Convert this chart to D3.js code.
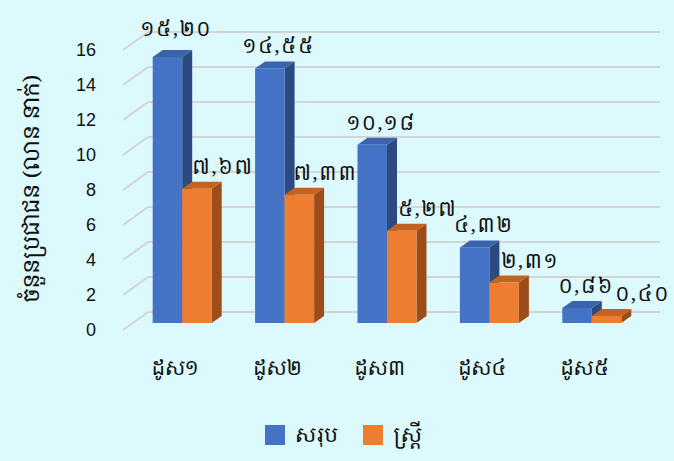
<!DOCTYPE html>
<html>
<head>
<meta charset="utf-8">
<script src="https://cdn.jsdelivr.net/npm/d3@7"></script>
<style>
  html, body { margin: 0; padding: 0; background: #dcf9fd; }
  svg { display: block; }
  text { font-family: "Khmer OS", "Noto Serif Khmer", "Noto Sans Khmer", "Noto Sans", "Liberation Sans", sans-serif; fill: #111; }
</style>
</head>
<body>
<svg id="chart" width="674" height="461"></svg>
<script>
// ---- data ----
const categories = ["ដូស១", "ដូស២", "ដូស៣", "ដូស៤", "ដូស៥"];
const seriesNames = ["សរុប", "ស្ត្រី"];
const totalValues = [15.20, 14.55, 10.18, 4.32, 0.86];
const femaleValues = [7.67, 7.33, 5.27, 2.31, 0.40];
const totalLabels = ["១៥,២០", "១៤,៥៥", "១០,១៨", "៤,៣២", "០,៨៦"];
const femaleLabels = ["៧,៦៧", "៧,៣៣", "៥,២៧", "២,៣១", "០,៤០"];
const yTicks = [0, 2, 4, 6, 8, 10, 12, 14, 16];
const yTitle = "ចំនួនប្រជាជន (លាន នាក់)";

// ---- layout ----
const svg = d3.select("#chart");
const W = 674, H = 461;
svg.append("rect").attr("width", W).attr("height", H).attr("fill", "#dcf9fd");

const x = d3.scaleBand().domain(categories).range([123, 635]);
const y = d3.scaleLinear().domain([0, 16]).range([330, 50]);

const wallDx = 25, wallDy = -18;   // back wall offset
const barDx = 8, barDy = -7;       // bar plane offset
const depDx = 10, depDy = -7;      // bar depth
const barW = 29.5;

const colors = [
  { front: "#4472c4", top: "#3b63ad", side: "#2c4a82" },
  { front: "#ed7d31", top: "#c4631f", side: "#9c4d1a" }
];

// gridlines
const grid = svg.append("g");
yTicks.forEach(v => {
  const yy = y(v);
  grid.append("line")
    .attr("x1", x.range()[0]).attr("y1", yy)
    .attr("x2", x.range()[0] + wallDx).attr("y2", yy + wallDy)
    .attr("stroke", "#d4d4d4").attr("stroke-width", 2);
  grid.append("line")
    .attr("x1", x.range()[0] + wallDx).attr("y1", yy + wallDy)
    .attr("x2", x.range()[1] + wallDx).attr("y2", yy + wallDy)
    .attr("stroke", "#d4d4d4").attr("stroke-width", 2);
});

// y tick labels
svg.append("g").selectAll("text").data(yTicks).join("text")
  .attr("x", 96).attr("y", d => y(d)).attr("dy", "0.35em")
  .attr("text-anchor", "end")
  .style("font-family", "'Liberation Sans', Arial, sans-serif")
  .style("font-size", "18px")
  .text(d => d);

// y title
svg.append("text")
  .attr("transform", "translate(39,189) rotate(-90)")
  .attr("text-anchor", "middle")
  .style("font-size", "22.5px")
  .text(yTitle);

// bars
const series = [totalValues, femaleValues];
const seriesLabels = [totalLabels, femaleLabels];
const labelShift = [9, 26];
const bars = svg.append("g");
categories.forEach((c, i) => {
  const cx = x(c) + x.bandwidth() / 2 + barDx;
  series.forEach((vals, s) => {
    const v = vals[i];
    const x0 = cx - barW + s * barW;
    const x1 = x0 + barW;
    const yb = y(0) + barDy;
    const yt = y(v) + barDy;
    const col = colors[s];
    bars.append("path")
      .attr("d", `M${x1},${yb} L${x1 + depDx},${yb + depDy} L${x1 + depDx},${yt + depDy} L${x1},${yt} Z`)
      .attr("fill", col.side);
    bars.append("path")
      .attr("d", `M${x0},${yt} L${x0 + depDx},${yt + depDy} L${x1 + depDx},${yt + depDy} L${x1},${yt} Z`)
      .attr("fill", col.top);
    bars.append("rect")
      .attr("x", x0).attr("y", yt)
      .attr("width", barW).attr("height", yb - yt)
      .attr("fill", col.front);
  });
});

// data labels (drawn after all bars), simple collision avoidance
const labels = svg.append("g");
categories.forEach((c, i) => {
  const cx = x(c) + x.bandwidth() / 2 + barDx;
  const nodes = [];
  series.forEach((vals, s) => {
    const x0 = cx - barW + s * barW;
    const yt = y(vals[i]) + barDy + depDy;
    const t = labels.append("text")
      .attr("x", x0 + barW / 2 + labelShift[s])
      .attr("y", yt - (vals[i] > 15 ? 14 : 8))
      .attr("text-anchor", "middle")
      .style("font-size", "20px")
      .style("letter-spacing", "1.5px")
      .text(seriesLabels[s][i]);
    nodes.push(t);
  });
  const a = nodes[0].node().getBBox();
  const b = nodes[1].node().getBBox();
  const overlapY = !(b.y > a.y + a.height || a.y > b.y + b.height);
  if (overlapY && b.x < a.x + a.width + 4) {
    let shift = a.x + a.width + 4 - b.x;
    shift = Math.min(shift, W - 4 - (b.x + b.width));
    nodes[1].attr("x", +nodes[1].attr("x") + shift);
  }
});

// category labels
svg.append("g").selectAll("text").data(categories).join("text")
  .attr("x", d => x(d) + x.bandwidth() / 2 + 1)
  .attr("y", 375)
  .attr("text-anchor", "middle")
  .style("font-size", "20px")
  .text(d => d);

// legend
const legend = svg.append("g");
const legendX = [265, 363];
seriesNames.forEach((n, s) => {
  legend.append("rect")
    .attr("x", legendX[s]).attr("y", 425)
    .attr("width", 20).attr("height", 20)
    .attr("fill", colors[s].front);
  legend.append("text")
    .attr("x", legendX[s] + 30).attr("y", 442)
    .style("font-size", "21px")
    .text(n);
});
</script>
</body>
</html>
